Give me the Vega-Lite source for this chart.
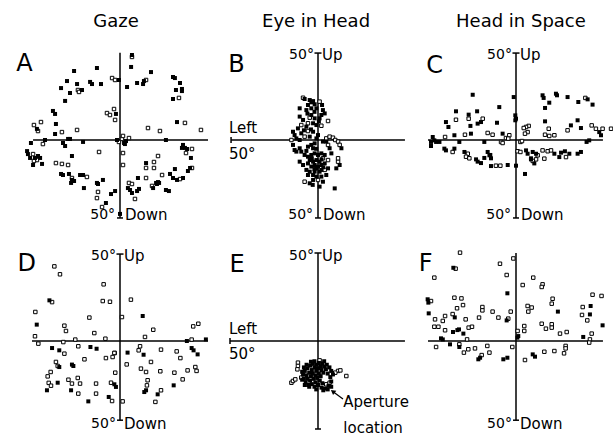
{
"$schema":"https://vega.github.io/schema/vega-lite/v6.json",
"padding":{"left":16,"top":13,"right":0,"bottom":0},
"background":"white",
"bounds":"flush",
"config":{"view":{"stroke":null},"font":"DejaVu Sans"},
"data":{"values":[
{"p":"A","k":"ln","x":0,"y":49.6,"x2":0,"y2":-44.3},
{"p":"A","k":"ln","x":-49.4,"y":0,"x2":50,"y2":0},
{"p":"A","k":"ln","x":-1.7,"y":-44.3,"x2":1.7,"y2":-44.3},
{"p":"B","k":"ln","x":0,"y":49.4,"x2":0,"y2":-44.3},
{"p":"B","k":"ln","x":-2,"y":49.4,"x2":2,"y2":49.4},
{"p":"B","k":"ln","x":-1.7,"y":-44.3,"x2":1.7,"y2":-44.3},
{"p":"B","k":"ln","x":-49.4,"y":0,"x2":49.4,"y2":0},
{"p":"B","k":"ln","x":-49.4,"y":-1.7,"x2":-49.4,"y2":1.7},
{"p":"C","k":"ln","x":0,"y":49.4,"x2":0,"y2":-44.3},
{"p":"C","k":"ln","x":-2,"y":49.4,"x2":2,"y2":49.4},
{"p":"C","k":"ln","x":-1.7,"y":-44.3,"x2":1.7,"y2":-44.3},
{"p":"C","k":"ln","x":-50,"y":0,"x2":49.4,"y2":0},
{"p":"D","k":"ln","x":0,"y":49.4,"x2":0,"y2":-45},
{"p":"D","k":"ln","x":-2,"y":49.4,"x2":2,"y2":49.4},
{"p":"D","k":"ln","x":-1.7,"y":-45,"x2":1.7,"y2":-45},
{"p":"D","k":"ln","x":-50,"y":0,"x2":50,"y2":0},
{"p":"E","k":"ln","x":0,"y":50,"x2":0,"y2":-50},
{"p":"E","k":"ln","x":-2,"y":50,"x2":2,"y2":50},
{"p":"E","k":"ln","x":-1.7,"y":-50,"x2":1.7,"y2":-50},
{"p":"E","k":"ln","x":-50,"y":0,"x2":49.4,"y2":0},
{"p":"E","k":"ln","x":-50,"y":-1.7,"x2":-50,"y2":1.7},
{"p":"F","k":"ln","x":0,"y":50,"x2":0,"y2":-45},
{"p":"F","k":"ln","x":-1.7,"y":-45,"x2":1.7,"y2":-45},
{"p":"F","k":"ln","x":-50,"y":0,"x2":49.4,"y2":0},
{"p":"E","k":"arrow","x":14.2,"y":-33.0,"x2":8.4,"y2":-28.7},
{"p":"E","k":"head","x":8.4,"y":-28.7},

{"p":"A","k":"r","x":-2.8,"y":-42.6,"t":"50°"},
{"p":"B","k":"r","x":-2.3,"y":48.5,"t":"50°"},
{"p":"B","k":"r","x":-2.8,"y":-42.6,"t":"50°"},
{"p":"C","k":"r","x":-2.3,"y":48.5,"t":"50°"},
{"p":"C","k":"r","x":-2.8,"y":-42.6,"t":"50°"},
{"p":"D","k":"r","x":-2.3,"y":48.5,"t":"50°"},
{"p":"D","k":"r","x":-2.3,"y":-47,"t":"50°"},
{"p":"E","k":"r","x":-2.3,"y":48.5,"t":"50°"},
{"p":"F","k":"r","x":-2.3,"y":-47,"t":"50°"},
{"p":"A","k":"l","x":2.8,"y":-42.6,"t":"Down"},
{"p":"B","k":"l","x":2.3,"y":48.5,"t":"Up"},
{"p":"B","k":"l","x":2.8,"y":-42.6,"t":"Down"},
{"p":"B","k":"l","x":-50.6,"y":6.8,"t":"Left"},
{"p":"B","k":"l","x":-50.6,"y":-8,"t":"50°"},
{"p":"C","k":"l","x":2.3,"y":48.5,"t":"Up"},
{"p":"C","k":"l","x":2.8,"y":-42.6,"t":"Down"},
{"p":"D","k":"l","x":2.3,"y":48.5,"t":"Up"},
{"p":"D","k":"l","x":2.3,"y":-47,"t":"Down"},
{"p":"E","k":"l","x":2.3,"y":48.5,"t":"Up"},
{"p":"E","k":"l","x":-50.6,"y":7.1,"t":"Left"},
{"p":"E","k":"l","x":-50.6,"y":-7.4,"t":"50°"},
{"p":"F","k":"l","x":2.3,"y":-47,"t":"Down"},
{"p":"E","k":"c","x":33,"y":-34.7,"t":"Aperture"},
{"p":"E","k":"c","x":31.3,"y":-49.5,"t":"location"},
{"p":"A","k":"L","x":-54.3,"y":42.9,"t":"A"},
{"p":"B","k":"L","x":-46.3,"y":42.6,"t":"B"},
{"p":"C","k":"L","x":-46.3,"y":41.8,"t":"C"},
{"p":"D","k":"L","x":-53,"y":43.5,"t":"D"},
{"p":"E","k":"L","x":-46,"y":42.9,"t":"E"},
{"p":"F","k":"L","x":-51.4,"y":44,"t":"F"},
{"p":"A","k":"T","x":-2.3,"y":67,"t":"Gaze"},
{"p":"B","k":"T","x":-1.1,"y":67,"t":"Eye in Head"},
{"p":"C","k":"T","x":2.8,"y":67,"t":"Head in Space"},

{"p":"A","k":"f","x":6.8,"y":48.3},{"p":"A","k":"o","x":6.8,"y":47.2},{"p":"A","k":"f","x":6.3,"y":41.5},{"p":"A","k":"f","x":17.6,"y":38.6},
{"p":"A","k":"f","x":-13.1,"y":40.9},{"p":"A","k":"f","x":-26.1,"y":39.2},{"p":"A","k":"f","x":-30.1,"y":33.5},{"p":"A","k":"f","x":-24.4,"y":31.8},
{"p":"A","k":"f","x":-17.0,"y":33.0},{"p":"A","k":"f","x":-15.9,"y":31.8},{"p":"A","k":"f","x":-10.8,"y":31.8},{"p":"A","k":"o","x":-4.5,"y":35.2},
{"p":"A","k":"o","x":-2.8,"y":34.1},{"p":"A","k":"f","x":-0.6,"y":34.1},{"p":"A","k":"f","x":4.0,"y":30.1},{"p":"A","k":"f","x":9.7,"y":32.4},
{"p":"A","k":"f","x":13.6,"y":33.5},{"p":"A","k":"o","x":14.8,"y":34.1},{"p":"A","k":"f","x":13.1,"y":31.8},{"p":"A","k":"f","x":30.1,"y":35.8},
{"p":"A","k":"f","x":31.2,"y":35.2},{"p":"A","k":"f","x":34.1,"y":32.4},{"p":"A","k":"f","x":31.8,"y":28.4},{"p":"A","k":"f","x":35.2,"y":29.0},
{"p":"A","k":"f","x":35.2,"y":27.8},{"p":"A","k":"f","x":30.1,"y":23.3},{"p":"A","k":"o","x":33.5,"y":23.9},{"p":"A","k":"f","x":-33.5,"y":29.5},
{"p":"A","k":"f","x":-28.4,"y":26.7},{"p":"A","k":"o","x":-23.9,"y":28.4},{"p":"A","k":"o","x":-23.3,"y":27.3},{"p":"A","k":"f","x":-21.6,"y":28.4},
{"p":"A","k":"f","x":-31.2,"y":22.2},{"p":"A","k":"f","x":-38.1,"y":16.5},{"p":"A","k":"f","x":-36.9,"y":14.8},{"p":"A","k":"f","x":-36.4,"y":9.1},
{"p":"A","k":"o","x":-44.9,"y":10.2},{"p":"A","k":"o","x":-48.9,"y":8.5},{"p":"A","k":"f","x":-47.2,"y":6.3},{"p":"A","k":"o","x":-46.6,"y":5.1},
{"p":"A","k":"o","x":-7.4,"y":15.3},{"p":"A","k":"o","x":-5.7,"y":14.2},{"p":"A","k":"o","x":-3.4,"y":17.6},{"p":"A","k":"f","x":-2.3,"y":14.8},
{"p":"A","k":"o","x":-2.8,"y":11.4},{"p":"A","k":"f","x":32.4,"y":10.2},{"p":"A","k":"o","x":36.9,"y":9.7},{"p":"A","k":"o","x":15.9,"y":6.8},
{"p":"A","k":"o","x":22.7,"y":5.1},{"p":"A","k":"o","x":46.0,"y":5.7},{"p":"A","k":"o","x":-24.4,"y":5.7},{"p":"A","k":"o","x":-33.0,"y":4.5},
{"p":"A","k":"f","x":-36.9,"y":3.4},{"p":"A","k":"f","x":-42.6,"y":0},{"p":"A","k":"o","x":-43.8,"y":-2.3},{"p":"A","k":"f","x":-50.6,"y":-1.7},
{"p":"A","k":"f","x":-29.5,"y":0.6},{"p":"A","k":"f","x":-28.4,"y":0.6},{"p":"A","k":"f","x":-32.4,"y":-1.7},{"p":"A","k":"f","x":-31.2,"y":-3.4},
{"p":"A","k":"f","x":-21.0,"y":-1.1},{"p":"A","k":"o","x":-11.9,"y":-6.8},{"p":"A","k":"f","x":-1.7,"y":0},{"p":"A","k":"o","x":-0.6,"y":-1.1},
{"p":"A","k":"o","x":1.1,"y":0.6},{"p":"A","k":"o","x":1.7,"y":2.3},{"p":"A","k":"f","x":2.3,"y":-1.7},{"p":"A","k":"f","x":2.8,"y":-2.3},
{"p":"A","k":"f","x":3.4,"y":-0.6},{"p":"A","k":"o","x":5.1,"y":1.1},{"p":"A","k":"o","x":1.7,"y":-7.4},{"p":"A","k":"o","x":1.7,"y":-14.2},
{"p":"A","k":"f","x":26.1,"y":0},{"p":"A","k":"f","x":-52.8,"y":-6.3},{"p":"A","k":"f","x":-52.3,"y":-8.0},{"p":"A","k":"f","x":-51.1,"y":-10.2},
{"p":"A","k":"o","x":-49.4,"y":-8.0},{"p":"A","k":"f","x":-48.3,"y":-10.2},{"p":"A","k":"o","x":-47.2,"y":-11.4},{"p":"A","k":"f","x":-46.6,"y":-9.1},
{"p":"A","k":"f","x":-45.4,"y":-10.2},{"p":"A","k":"o","x":-48.9,"y":-11.9},{"p":"A","k":"f","x":-49.4,"y":-14.2},{"p":"A","k":"f","x":-44.3,"y":-13.6},
{"p":"A","k":"f","x":-27.3,"y":-9.1},{"p":"A","k":"o","x":-36.4,"y":-13.1},{"p":"A","k":"o","x":-33.0,"y":-13.6},{"p":"A","k":"o","x":-29.5,"y":-14.2},
{"p":"A","k":"f","x":35.8,"y":-2.8},{"p":"A","k":"f","x":36.9,"y":-4.5},{"p":"A","k":"f","x":38.1,"y":-5.1},{"p":"A","k":"f","x":35.2,"y":-4.5},
{"p":"A","k":"o","x":40.9,"y":-5.1},{"p":"A","k":"o","x":37.5,"y":-7.4},{"p":"A","k":"f","x":40.3,"y":-10.2},{"p":"A","k":"o","x":21.6,"y":-9.1},
{"p":"A","k":"f","x":14.8,"y":-13.1},{"p":"A","k":"o","x":19.3,"y":-12.5},{"p":"A","k":"o","x":14.8,"y":-15.9},{"p":"A","k":"o","x":19.3,"y":-15.9},
{"p":"A","k":"f","x":39.8,"y":-15.9},{"p":"A","k":"o","x":40.9,"y":-15.9},{"p":"A","k":"f","x":38.6,"y":-17.6},{"p":"A","k":"f","x":-33.5,"y":-19.3},
{"p":"A","k":"f","x":-32.4,"y":-19.9},{"p":"A","k":"f","x":-29.0,"y":-19.3},{"p":"A","k":"f","x":-27.3,"y":-22.7},{"p":"A","k":"f","x":-26.1,"y":-23.3},
{"p":"A","k":"f","x":-27.8,"y":-24.4},{"p":"A","k":"f","x":-22.7,"y":-19.9},{"p":"A","k":"f","x":-21.0,"y":-19.9},{"p":"A","k":"o","x":-18.8,"y":-21.0},
{"p":"A","k":"o","x":-27.3,"y":-21.6},{"p":"A","k":"f","x":-20.5,"y":-27.3},{"p":"A","k":"f","x":-13.1,"y":-24.4},{"p":"A","k":"f","x":-12.5,"y":-25.0},
{"p":"A","k":"f","x":-9.7,"y":-22.7},{"p":"A","k":"o","x":-12.5,"y":-29.5},{"p":"A","k":"o","x":-13.1,"y":-33.0},{"p":"A","k":"f","x":-5.1,"y":-30.7},
{"p":"A","k":"f","x":-2.8,"y":-29.0},{"p":"A","k":"f","x":-8.0,"y":-35.8},{"p":"A","k":"o","x":-10.2,"y":-38.1},{"p":"A","k":"f","x":0,"y":-42.0},
{"p":"A","k":"o","x":5.1,"y":-24.4},{"p":"A","k":"o","x":6.8,"y":-25.0},{"p":"A","k":"f","x":4.5,"y":-27.3},{"p":"A","k":"f","x":5.7,"y":-28.4},
{"p":"A","k":"f","x":6.8,"y":-30.1},{"p":"A","k":"f","x":10.8,"y":-27.8},{"p":"A","k":"f","x":9.7,"y":-29.0},{"p":"A","k":"f","x":10.2,"y":-21.6},
{"p":"A","k":"o","x":14.8,"y":-21.6},{"p":"A","k":"f","x":20.5,"y":-24.4},{"p":"A","k":"f","x":21.6,"y":-23.9},{"p":"A","k":"f","x":21.0,"y":-25.0},
{"p":"A","k":"f","x":22.2,"y":-24.4},{"p":"A","k":"o","x":18.2,"y":-26.1},{"p":"A","k":"f","x":18.8,"y":-27.3},{"p":"A","k":"f","x":26.1,"y":-28.4},
{"p":"A","k":"f","x":27.8,"y":-29.0},{"p":"A","k":"o","x":23.9,"y":-19.9},{"p":"A","k":"f","x":28.4,"y":-19.3},{"p":"A","k":"f","x":30.1,"y":-21.6},
{"p":"A","k":"f","x":31.2,"y":-16.5},{"p":"A","k":"f","x":32.4,"y":-22.7},{"p":"A","k":"o","x":34.1,"y":-22.2},{"p":"A","k":"f","x":35.8,"y":-21.6},
{"p":"A","k":"o","x":8.5,"y":-33.5},

{"p":"B","k":"o","x":-8.5,"y":24.0},{"p":"B","k":"f","x":-7.6,"y":23.3},{"p":"B","k":"f","x":-4.7,"y":22.7},{"p":"B","k":"f","x":-3.8,"y":21.4},
{"p":"B","k":"f","x":-2.8,"y":22.1},{"p":"B","k":"f","x":-5.7,"y":19.9},{"p":"B","k":"f","x":-1.9,"y":20.3},{"p":"B","k":"o","x":0.9,"y":21.8},
{"p":"B","k":"f","x":2.3,"y":19.9},{"p":"B","k":"f","x":-3.8,"y":18.0},{"p":"B","k":"f","x":-0.9,"y":18.0},{"p":"B","k":"f","x":2.8,"y":17.0},
{"p":"B","k":"f","x":-6.6,"y":17.0},{"p":"B","k":"f","x":-10.4,"y":18.0},{"p":"B","k":"f","x":1.9,"y":14.2},{"p":"B","k":"f","x":3.8,"y":15.1},
{"p":"B","k":"f","x":-3.8,"y":14.2},{"p":"B","k":"o","x":-4.7,"y":12.7},{"p":"B","k":"f","x":-1.9,"y":12.3},{"p":"B","k":"f","x":0.9,"y":12.3},
{"p":"B","k":"o","x":5.7,"y":10.8},{"p":"B","k":"f","x":-10.4,"y":13.3},{"p":"B","k":"f","x":-8.5,"y":11.4},{"p":"B","k":"o","x":-5.7,"y":9.5},
{"p":"B","k":"f","x":-2.8,"y":9.5},{"p":"B","k":"f","x":-6.6,"y":7.6},{"p":"B","k":"f","x":-0.9,"y":8.5},{"p":"B","k":"o","x":1.9,"y":8.1},
{"p":"B","k":"o","x":-9.5,"y":8.5},{"p":"B","k":"f","x":-11.4,"y":6.6},{"p":"B","k":"f","x":-14.2,"y":4.7},{"p":"B","k":"f","x":-13.3,"y":2.8},
{"p":"B","k":"f","x":-9.5,"y":3.8},{"p":"B","k":"o","x":-5.7,"y":5.1},{"p":"B","k":"f","x":-2.8,"y":4.7},{"p":"B","k":"o","x":-7.6,"y":1.9},
{"p":"B","k":"f","x":-4.7,"y":1.9},{"p":"B","k":"o","x":-15.1,"y":0},{"p":"B","k":"f","x":-12.3,"y":0.9},{"p":"B","k":"f","x":-10.4,"y":0},
{"p":"B","k":"f","x":-0.9,"y":0.9},{"p":"B","k":"f","x":0,"y":2.8},{"p":"B","k":"o","x":4.7,"y":0.9},{"p":"B","k":"o","x":6.6,"y":1.9},
{"p":"B","k":"o","x":8.5,"y":1.3},{"p":"B","k":"o","x":9.8,"y":0},{"p":"B","k":"o","x":11.4,"y":-0.9},{"p":"B","k":"o","x":12.3,"y":-2.8},
{"p":"B","k":"f","x":13.3,"y":-4.7},{"p":"B","k":"f","x":4.7,"y":-0.9},{"p":"B","k":"o","x":5.7,"y":-2.8},{"p":"B","k":"f","x":6.6,"y":-4.7},
{"p":"B","k":"f","x":2.8,"y":-0.9},{"p":"B","k":"f","x":7.6,"y":-7.6},{"p":"B","k":"f","x":-14.2,"y":-2.8},{"p":"B","k":"f","x":-13.3,"y":-5.7},
{"p":"B","k":"f","x":-12.3,"y":-6.6},{"p":"B","k":"f","x":-10.4,"y":-4.7},{"p":"B","k":"f","x":-9.5,"y":-6.6},{"p":"B","k":"f","x":-5.7,"y":-3.8},
{"p":"B","k":"f","x":-3.8,"y":-2.8},{"p":"B","k":"f","x":-2.8,"y":-4.7},{"p":"B","k":"f","x":-1.9,"y":-1.9},{"p":"B","k":"f","x":-7.6,"y":-8.5},
{"p":"B","k":"f","x":-5.7,"y":-9.5},{"p":"B","k":"f","x":-3.8,"y":-8.5},{"p":"B","k":"f","x":-1.9,"y":-7.6},{"p":"B","k":"f","x":0,"y":-8.5},
{"p":"B","k":"f","x":1.9,"y":-7.6},{"p":"B","k":"o","x":2.8,"y":-10.4},{"p":"B","k":"f","x":-4.7,"y":-11.4},{"p":"B","k":"f","x":-2.8,"y":-12.3},
{"p":"B","k":"f","x":-0.9,"y":-11.4},{"p":"B","k":"f","x":0.9,"y":-12.3},{"p":"B","k":"f","x":-1.9,"y":-14.2},{"p":"B","k":"f","x":0,"y":-15.1},
{"p":"B","k":"f","x":1.9,"y":-14.2},{"p":"B","k":"f","x":3.8,"y":-13.3},{"p":"B","k":"f","x":-3.8,"y":-15.1},{"p":"B","k":"f","x":-6.6,"y":-17.0},
{"p":"B","k":"f","x":-4.7,"y":-18.0},{"p":"B","k":"f","x":-1.9,"y":-18.0},{"p":"B","k":"f","x":0.9,"y":-18.0},{"p":"B","k":"o","x":3.8,"y":-17.0},
{"p":"B","k":"f","x":5.7,"y":-16.1},{"p":"B","k":"f","x":-0.9,"y":-20.8},{"p":"B","k":"f","x":1.9,"y":-20.8},{"p":"B","k":"o","x":0,"y":-22.7},
{"p":"B","k":"f","x":-2.8,"y":-22.7},{"p":"B","k":"f","x":-5.7,"y":-19.9},{"p":"B","k":"o","x":-7.6,"y":-23.7},{"p":"B","k":"f","x":0.9,"y":-26.5},
{"p":"B","k":"f","x":9.5,"y":-27.5},{"p":"B","k":"o","x":11.4,"y":-12.3},{"p":"B","k":"f","x":12.3,"y":-14.2},{"p":"B","k":"o","x":11.4,"y":-10.4},
{"p":"B","k":"f","x":10.4,"y":-16.1},{"p":"B","k":"f","x":-10.4,"y":-12.3},{"p":"B","k":"f","x":-8.5,"y":-14.2},{"p":"B","k":"f","x":-5.7,"y":-13.3},
{"p":"B","k":"f","x":1.9,"y":-17.0},{"p":"B","k":"f","x":4.7,"y":-19.9},{"p":"B","k":"f","x":-0.9,"y":-16.1},{"p":"B","k":"f","x":2.8,"y":-23.7},
{"p":"B","k":"f","x":-2.8,"y":-19.9},{"p":"B","k":"f","x":-4.7,"y":-24.6},{"p":"B","k":"o","x":5.7,"y":-11.4},{"p":"B","k":"f","x":3.8,"y":-8.5},
{"p":"B","k":"f","x":-6.6,"y":-6.2},{"p":"B","k":"f","x":-1.0,"y":-5.0},{"p":"B","k":"f","x":-3.5,"y":-10.5},{"p":"B","k":"f","x":2.0,"y":-11.0},
{"p":"B","k":"f","x":-2.0,"y":-16.5},{"p":"B","k":"f","x":3.0,"y":-15.5},{"p":"B","k":"f","x":-3.0,"y":-25.5},{"p":"B","k":"f","x":-6.0,"y":15.0},
{"p":"B","k":"f","x":-2.0,"y":16.0},{"p":"B","k":"f","x":0.5,"y":10.5},{"p":"B","k":"f","x":-4.0,"y":6.0},{"p":"B","k":"f","x":-8.0,"y":5.5},

{"p":"C","k":"f","x":-24.6,"y":25.7},{"p":"C","k":"f","x":-1.3,"y":24.4},{"p":"C","k":"f","x":15.1,"y":25.4},{"p":"C","k":"f","x":15.7,"y":23.9},
{"p":"C","k":"f","x":22.7,"y":26.3},{"p":"C","k":"f","x":23.3,"y":25.4},{"p":"C","k":"f","x":29.3,"y":24.4},{"p":"C","k":"o","x":39.4,"y":23.9},
{"p":"C","k":"f","x":40.7,"y":23.1},{"p":"C","k":"f","x":35.4,"y":21.6},{"p":"C","k":"f","x":43.5,"y":20.1},{"p":"C","k":"f","x":18.9,"y":21.2},
{"p":"C","k":"f","x":16.5,"y":18.2},{"p":"C","k":"f","x":-9.5,"y":18.7},{"p":"C","k":"f","x":-34.1,"y":16.3},{"p":"C","k":"f","x":-22.1,"y":16.3},
{"p":"C","k":"f","x":-26.9,"y":14.4},{"p":"C","k":"o","x":-34.1,"y":11.5},{"p":"C","k":"o","x":-26.9,"y":12.1},{"p":"C","k":"o","x":-18.9,"y":12.1},
{"p":"C","k":"f","x":-19.9,"y":10.2},{"p":"C","k":"f","x":-21.8,"y":9.3},{"p":"C","k":"f","x":-25.9,"y":8.0},{"p":"C","k":"f","x":-39.8,"y":10.2},
{"p":"C","k":"f","x":-38.4,"y":7.4},{"p":"C","k":"f","x":-10.8,"y":9.8},{"p":"C","k":"f","x":-0.4,"y":14.0},{"p":"C","k":"f","x":0,"y":12.1},
{"p":"C","k":"f","x":-0.4,"y":11.2},{"p":"C","k":"o","x":7.2,"y":8.0},{"p":"C","k":"o","x":5.7,"y":7.4},{"p":"C","k":"o","x":4.4,"y":6.8},
{"p":"C","k":"o","x":6.6,"y":4.5},{"p":"C","k":"o","x":5.1,"y":3.6},{"p":"C","k":"f","x":16.5,"y":10.6},{"p":"C","k":"o","x":18.6,"y":6.4},
{"p":"C","k":"f","x":35.0,"y":11.2},{"p":"C","k":"f","x":31.2,"y":8.3},{"p":"C","k":"o","x":29.3,"y":5.5},{"p":"C","k":"f","x":36.9,"y":6.8},
{"p":"C","k":"o","x":43.0,"y":8.3},{"p":"C","k":"o","x":45.4,"y":6.4},{"p":"C","k":"f","x":47.3,"y":4.5},{"p":"C","k":"f","x":48.3,"y":2.7},
{"p":"C","k":"o","x":49.2,"y":6.4},{"p":"C","k":"o","x":54.0,"y":6.4},{"p":"C","k":"o","x":21.8,"y":2.7},{"p":"C","k":"o","x":16.5,"y":3.0},
{"p":"C","k":"o","x":18.9,"y":2.3},{"p":"C","k":"f","x":-35.0,"y":2.7},{"p":"C","k":"o","x":-40.3,"y":1.7},{"p":"C","k":"o","x":-29.0,"y":3.0},
{"p":"C","k":"f","x":-25.6,"y":3.6},{"p":"C","k":"o","x":-16.1,"y":4.0},{"p":"C","k":"o","x":-13.3,"y":3.0},{"p":"C","k":"f","x":-7.6,"y":3.6},
{"p":"C","k":"o","x":-3.8,"y":2.7},{"p":"C","k":"o","x":-5.7,"y":1.1},{"p":"C","k":"o","x":-4.4,"y":0.8},{"p":"C","k":"o","x":-8.5,"y":-1.1},
{"p":"C","k":"o","x":-7.6,"y":-1.7},{"p":"C","k":"f","x":-47.3,"y":1.7},{"p":"C","k":"f","x":-46.4,"y":-0.2},{"p":"C","k":"f","x":-45.4,"y":-1.1},
{"p":"C","k":"f","x":-48.3,"y":-1.1},{"p":"C","k":"f","x":-43.5,"y":-1.1},{"p":"C","k":"f","x":-32.2,"y":-1.1},{"p":"C","k":"f","x":-18.0,"y":-1.1},
{"p":"C","k":"o","x":2.5,"y":-1.1},{"p":"C","k":"o","x":3.4,"y":-0.6},{"p":"C","k":"f","x":-48.3,"y":-3.4},{"p":"C","k":"f","x":-40.7,"y":-4.9},
{"p":"C","k":"f","x":-39.8,"y":-5.9},{"p":"C","k":"o","x":-36.0,"y":-6.8},{"p":"C","k":"f","x":-35.0,"y":-4.9},{"p":"C","k":"f","x":-29.3,"y":-6.8},
{"p":"C","k":"o","x":-27.4,"y":-7.8},{"p":"C","k":"f","x":-16.1,"y":-6.8},{"p":"C","k":"f","x":-15.1,"y":-8.7},{"p":"C","k":"f","x":-22.7,"y":-11.0},
{"p":"C","k":"o","x":0.9,"y":-6.4},{"p":"C","k":"o","x":2.5,"y":-6.8},{"p":"C","k":"f","x":5.7,"y":-5.9},{"p":"C","k":"f","x":6.6,"y":-7.8},
{"p":"C","k":"f","x":9.5,"y":-6.8},{"p":"C","k":"f","x":11.4,"y":-7.8},{"p":"C","k":"o","x":12.3,"y":-8.7},{"p":"C","k":"o","x":15.1,"y":-5.9},
{"p":"C","k":"o","x":18.0,"y":-6.4},{"p":"C","k":"o","x":19.9,"y":-5.9},{"p":"C","k":"f","x":21.8,"y":-7.8},{"p":"C","k":"f","x":25.6,"y":-7.2},
{"p":"C","k":"f","x":27.8,"y":-6.4},{"p":"C","k":"f","x":30.3,"y":-7.8},{"p":"C","k":"f","x":35.0,"y":-7.8},{"p":"C","k":"f","x":36.9,"y":-6.8},
{"p":"C","k":"f","x":40.1,"y":-1.1},{"p":"C","k":"f","x":41.6,"y":-0.2},{"p":"C","k":"f","x":24.6,"y":-9.7},{"p":"C","k":"o","x":28.4,"y":-9.7},
{"p":"C","k":"f","x":8.5,"y":-11.0},{"p":"C","k":"o","x":11.4,"y":-11.0},{"p":"C","k":"o","x":16.1,"y":-10.6},{"p":"C","k":"f","x":-18.0,"y":-10.2},
{"p":"C","k":"o","x":-28.4,"y":-9.5},{"p":"C","k":"o","x":-26.5,"y":-10.4},{"p":"C","k":"f","x":-21.8,"y":-12.3},{"p":"C","k":"f","x":-19.9,"y":-13.1},
{"p":"C","k":"f","x":-14.2,"y":-14.8},{"p":"C","k":"o","x":-11.4,"y":-14.6},{"p":"C","k":"o","x":-8.9,"y":-14.6},{"p":"C","k":"f","x":-4.7,"y":-14.2},
{"p":"C","k":"f","x":0,"y":-14.6},{"p":"C","k":"f","x":5.1,"y":-19.3},{"p":"C","k":"f","x":8.5,"y":-10.4},{"p":"C","k":"o","x":9.5,"y":-11.9},
{"p":"C","k":"f","x":10.4,"y":-13.3},{"p":"C","k":"f","x":-14.6,"y":-8.5},{"p":"C","k":"f","x":-14.2,"y":-10.4},

{"p":"D","k":"o","x":-37.3,"y":42.4},{"p":"D","k":"o","x":-34.1,"y":37.9},{"p":"D","k":"o","x":-9.3,"y":32.2},{"p":"D","k":"f","x":-40.1,"y":23.1},
{"p":"D","k":"o","x":-38.6,"y":22.1},{"p":"D","k":"o","x":-9.8,"y":22.7},{"p":"D","k":"o","x":-5.7,"y":22.3},{"p":"D","k":"o","x":6.2,"y":23.5},
{"p":"D","k":"o","x":-48.1,"y":16.5},{"p":"D","k":"o","x":-17.4,"y":13.3},{"p":"D","k":"o","x":1.1,"y":13.6},{"p":"D","k":"f","x":12.9,"y":14.2},
{"p":"D","k":"f","x":-47.3,"y":9.3},{"p":"D","k":"o","x":-31.6,"y":8.7},{"p":"D","k":"o","x":-30.7,"y":5.7},{"p":"D","k":"o","x":-14.6,"y":4.5},
{"p":"D","k":"o","x":18.9,"y":6.4},{"p":"D","k":"o","x":41.6,"y":8.3},{"p":"D","k":"o","x":44.5,"y":9.8},{"p":"D","k":"o","x":-48.3,"y":2.7},
{"p":"D","k":"o","x":-46.4,"y":-1.5},{"p":"D","k":"o","x":-32.2,"y":-0.6},{"p":"D","k":"o","x":-25.4,"y":0.8},{"p":"D","k":"o","x":-8.3,"y":1.3},
{"p":"D","k":"o","x":14.2,"y":2.3},{"p":"D","k":"f","x":38.0,"y":0},{"p":"D","k":"o","x":40.7,"y":0.8},{"p":"D","k":"f","x":48.8,"y":0.9},
{"p":"D","k":"f","x":-38.6,"y":-4.0},{"p":"D","k":"f","x":-34.5,"y":-5.3},{"p":"D","k":"o","x":-31.6,"y":-7.2},{"p":"D","k":"o","x":-23.7,"y":-3.0},
{"p":"D","k":"f","x":-16.8,"y":-3.4},{"p":"D","k":"f","x":-13.3,"y":-4.4},{"p":"D","k":"o","x":-3.0,"y":-6.8},{"p":"D","k":"f","x":4.3,"y":-6.6},
{"p":"D","k":"o","x":11.4,"y":-3.0},{"p":"D","k":"o","x":10.6,"y":-5.3},{"p":"D","k":"f","x":13.4,"y":-7.8},{"p":"D","k":"o","x":23.3,"y":-4.9},
{"p":"D","k":"o","x":32.2,"y":-5.9},{"p":"D","k":"o","x":34.3,"y":-9.7},{"p":"D","k":"f","x":40.7,"y":-4.0},{"p":"D","k":"f","x":41.8,"y":-5.3},
{"p":"D","k":"f","x":44.1,"y":-7.6},{"p":"D","k":"o","x":-20.2,"y":-10.4},{"p":"D","k":"o","x":-8.0,"y":-9.7},{"p":"D","k":"o","x":-4.2,"y":-9.1},
{"p":"D","k":"o","x":-3.2,"y":-6.8},{"p":"D","k":"o","x":-36.4,"y":-11.9},{"p":"D","k":"f","x":-34.5,"y":-14.8},{"p":"D","k":"o","x":-35.4,"y":-14.2},
{"p":"D","k":"o","x":-39.4,"y":-17.6},{"p":"D","k":"f","x":-27.3,"y":-13.4},{"p":"D","k":"f","x":-26.5,"y":-14.2},{"p":"D","k":"o","x":3.8,"y":-13.3},
{"p":"D","k":"o","x":11.9,"y":-15.7},{"p":"D","k":"o","x":17.6,"y":-11.9},{"p":"D","k":"o","x":14.8,"y":-17.6},{"p":"D","k":"o","x":22.9,"y":-17.2},
{"p":"D","k":"o","x":30.9,"y":-18.0},{"p":"D","k":"o","x":38.4,"y":-16.7},{"p":"D","k":"o","x":42.8,"y":-14.8},{"p":"D","k":"o","x":43.5,"y":-17.0},
{"p":"D","k":"o","x":35.6,"y":-21.8},{"p":"D","k":"o","x":-2.7,"y":-18.0},{"p":"D","k":"o","x":-41.1,"y":-20.1},{"p":"D","k":"o","x":-40.5,"y":-23.8},
{"p":"D","k":"o","x":-39.2,"y":-25.4},{"p":"D","k":"f","x":-35.4,"y":-23.7},{"p":"D","k":"o","x":-29.3,"y":-22.0},{"p":"D","k":"o","x":-27.3,"y":-24.2},
{"p":"D","k":"o","x":-24.0,"y":-21.0},{"p":"D","k":"o","x":-22.7,"y":-24.2},{"p":"D","k":"f","x":-41.5,"y":-28.0},{"p":"D","k":"f","x":-27.8,"y":-28.0},
{"p":"D","k":"o","x":-23.7,"y":-29.9},{"p":"D","k":"f","x":-18.0,"y":-34.3},{"p":"D","k":"o","x":-13.6,"y":-24.2},{"p":"D","k":"o","x":-13.6,"y":-29.9},
{"p":"D","k":"o","x":-5.1,"y":-23.7},{"p":"D","k":"f","x":-3.2,"y":-24.6},{"p":"D","k":"f","x":-2.3,"y":-26.1},{"p":"D","k":"f","x":-6.4,"y":-31.8},
{"p":"D","k":"o","x":-4.5,"y":-34.1},{"p":"D","k":"o","x":1.5,"y":-34.3},{"p":"D","k":"f","x":13.8,"y":-29.0},{"p":"D","k":"f","x":14.8,"y":-28.0},
{"p":"D","k":"o","x":15.3,"y":-25.2},{"p":"D","k":"o","x":15.7,"y":-22.3},{"p":"D","k":"f","x":21.4,"y":-30.3},{"p":"D","k":"o","x":23.3,"y":-28.0},
{"p":"D","k":"o","x":20.1,"y":-34.6},{"p":"D","k":"f","x":30.5,"y":-25.2},

{"p":"E","k":"f","x":-8.5,"y":-19.0},{"p":"E","k":"f","x":-8.0,"y":-21.5},{"p":"E","k":"f","x":-7.5,"y":-17.0},{"p":"E","k":"f","x":-7.0,"y":-23.5},
{"p":"E","k":"f","x":-6.5,"y":-19.5},{"p":"E","k":"f","x":-6.0,"y":-15.5},{"p":"E","k":"f","x":-6.0,"y":-21.5},{"p":"E","k":"f","x":-5.5,"y":-25.0},
{"p":"E","k":"f","x":-5.0,"y":-18.0},{"p":"E","k":"f","x":-4.5,"y":-14.0},{"p":"E","k":"f","x":-4.5,"y":-22.5},{"p":"E","k":"f","x":-4.0,"y":-20.0},
{"p":"E","k":"f","x":-3.5,"y":-16.5},{"p":"E","k":"f","x":-3.5,"y":-24.5},{"p":"E","k":"f","x":-3.0,"y":-13.0},{"p":"E","k":"f","x":-3.0,"y":-18.5},
{"p":"E","k":"f","x":-2.5,"y":-21.5},{"p":"E","k":"f","x":-2.0,"y":-15.0},{"p":"E","k":"f","x":-2.0,"y":-26.0},{"p":"E","k":"f","x":-1.5,"y":-19.5},
{"p":"E","k":"f","x":-1.5,"y":-23.5},{"p":"E","k":"f","x":-1.0,"y":-13.5},{"p":"E","k":"f","x":-1.0,"y":-17.0},{"p":"E","k":"f","x":-0.5,"y":-21.0},
{"p":"E","k":"f","x":0,"y":-15.5},{"p":"E","k":"f","x":0,"y":-25.0},{"p":"E","k":"f","x":0.5,"y":-18.5},{"p":"E","k":"f","x":0.5,"y":-12.5},
{"p":"E","k":"f","x":1.0,"y":-22.5},{"p":"E","k":"f","x":1.5,"y":-14.5},{"p":"E","k":"f","x":1.5,"y":-20.0},{"p":"E","k":"f","x":2.0,"y":-16.5},
{"p":"E","k":"f","x":2.0,"y":-26.5},{"p":"E","k":"f","x":2.5,"y":-12.8},{"p":"E","k":"f","x":3.0,"y":-18.0},{"p":"E","k":"f","x":2.5,"y":-24.0},
{"p":"E","k":"f","x":3.5,"y":-14.5},{"p":"E","k":"f","x":4.0,"y":-27.0},{"p":"E","k":"f","x":4.5,"y":-16.0},{"p":"E","k":"f","x":5.0,"y":-13.5},
{"p":"E","k":"f","x":5.5,"y":-18.5},{"p":"E","k":"f","x":6.0,"y":-25.5},{"p":"E","k":"f","x":6.5,"y":-15.0},{"p":"E","k":"f","x":7.0,"y":-20.5},
{"p":"E","k":"f","x":7.5,"y":-23.0},{"p":"E","k":"f","x":7.5,"y":-17.0},{"p":"E","k":"f","x":7.5,"y":-26.0},{"p":"E","k":"f","x":5.5,"y":-27.5},
{"p":"E","k":"f","x":3.0,"y":-28.0},{"p":"E","k":"f","x":-1.0,"y":-27.5},{"p":"E","k":"f","x":-5.0,"y":-26.0},{"p":"E","k":"f","x":-7.5,"y":-25.0},
{"p":"E","k":"f","x":-9.0,"y":-22.0},{"p":"E","k":"f","x":-9.0,"y":-17.5},{"p":"E","k":"f","x":-2.0,"y":-11.5},{"p":"E","k":"f","x":3.5,"y":-11.5},
{"p":"E","k":"f","x":8.5,"y":-19.0},{"p":"E","k":"f","x":-4.0,"y":-11.8},{"p":"E","k":"f","x":-6.5,"y":-13.5},{"p":"E","k":"f","x":-8.0,"y":-15.0},
{"p":"E","k":"o","x":-11.4,"y":-12.3},{"p":"E","k":"o","x":-11.4,"y":-14.2},{"p":"E","k":"o","x":-11.7,"y":-16.1},{"p":"E","k":"o","x":-15.1,"y":-23.7},
{"p":"E","k":"o","x":-14.2,"y":-22.7},{"p":"E","k":"o","x":-12.9,"y":-21.8},{"p":"E","k":"o","x":-9.5,"y":-20.8},{"p":"E","k":"o","x":11.4,"y":-17.0},
{"p":"E","k":"o","x":12.7,"y":-16.7},{"p":"E","k":"o","x":16.1,"y":-19.9},{"p":"E","k":"o","x":9.8,"y":-18.0},{"p":"E","k":"o","x":4.7,"y":-24.6},
{"p":"E","k":"o","x":6.6,"y":-23.7},{"p":"E","k":"o","x":0.9,"y":-11.0},

{"p":"F","k":"o","x":-31.8,"y":50.2},{"p":"F","k":"f","x":-35.6,"y":41.6},{"p":"F","k":"o","x":-34.3,"y":41.1},{"p":"F","k":"o","x":-46.4,"y":36.0},
{"p":"F","k":"o","x":-9.1,"y":43.9},{"p":"F","k":"o","x":-1.5,"y":46.9},{"p":"F","k":"o","x":-5.3,"y":37.5},{"p":"F","k":"o","x":9.8,"y":36.0},
{"p":"F","k":"o","x":3.8,"y":31.8},{"p":"F","k":"o","x":15.1,"y":32.2},{"p":"F","k":"o","x":14.6,"y":30.7},{"p":"F","k":"f","x":-4.9,"y":27.1},
{"p":"F","k":"o","x":43.5,"y":26.3},{"p":"F","k":"o","x":48.6,"y":25.6},{"p":"F","k":"f","x":-50.2,"y":23.7},{"p":"F","k":"f","x":-49.8,"y":21.8},
{"p":"F","k":"o","x":-48.3,"y":22.7},{"p":"F","k":"o","x":-35.0,"y":24.6},{"p":"F","k":"o","x":-31.0,"y":24.2},{"p":"F","k":"o","x":-30.1,"y":20.4},
{"p":"F","k":"o","x":-33.5,"y":18.6},{"p":"F","k":"o","x":-19.1,"y":19.3},{"p":"F","k":"o","x":-19.1,"y":17.4},{"p":"F","k":"o","x":-13.3,"y":16.7},
{"p":"F","k":"o","x":-3.0,"y":16.7},{"p":"F","k":"o","x":6.6,"y":19.9},{"p":"F","k":"o","x":8.9,"y":19.0},{"p":"F","k":"o","x":7.0,"y":16.7},
{"p":"F","k":"o","x":20.8,"y":24.0},{"p":"F","k":"o","x":20.3,"y":21.2},{"p":"F","k":"f","x":23.8,"y":16.7},{"p":"F","k":"o","x":37.9,"y":19.3},
{"p":"F","k":"f","x":42.4,"y":19.9},{"p":"F","k":"f","x":42.0,"y":15.1},{"p":"F","k":"f","x":-49.6,"y":15.7},{"p":"F","k":"o","x":-40.3,"y":14.2},
{"p":"F","k":"o","x":-41.6,"y":11.4},{"p":"F","k":"o","x":-36.0,"y":15.3},{"p":"F","k":"f","x":-34.8,"y":13.4},{"p":"F","k":"o","x":-46.0,"y":12.3},
{"p":"F","k":"o","x":-46.4,"y":8.1},{"p":"F","k":"o","x":-44.1,"y":8.1},{"p":"F","k":"o","x":-28.6,"y":12.3},{"p":"F","k":"o","x":-21.0,"y":13.3},
{"p":"F","k":"o","x":-10.0,"y":13.3},{"p":"F","k":"f","x":-5.3,"y":11.7},{"p":"F","k":"o","x":-4.4,"y":12.7},{"p":"F","k":"o","x":37.5,"y":14.8},
{"p":"F","k":"o","x":40.5,"y":11.7},{"p":"F","k":"f","x":49.2,"y":8.9},{"p":"F","k":"o","x":4.7,"y":8.5},{"p":"F","k":"o","x":4.7,"y":5.7},
{"p":"F","k":"o","x":14.6,"y":9.8},{"p":"F","k":"o","x":20.3,"y":9.5},{"p":"F","k":"o","x":20.3,"y":7.6},{"p":"F","k":"o","x":17.0,"y":7.0},
{"p":"F","k":"o","x":25.0,"y":4.2},{"p":"F","k":"o","x":28.8,"y":5.1},{"p":"F","k":"o","x":-40.3,"y":6.1},{"p":"F","k":"f","x":-35.8,"y":5.1},
{"p":"F","k":"f","x":-33.3,"y":6.2},{"p":"F","k":"f","x":-32.4,"y":6.6},{"p":"F","k":"o","x":-26.9,"y":7.6},{"p":"F","k":"o","x":-25.0,"y":8.1},
{"p":"F","k":"f","x":-29.9,"y":4.2},{"p":"F","k":"f","x":-42.6,"y":1.5},{"p":"F","k":"f","x":-41.6,"y":0.9},{"p":"F","k":"o","x":-27.8,"y":0.9},
{"p":"F","k":"o","x":0.9,"y":5.7},{"p":"F","k":"f","x":1.3,"y":2.8},{"p":"F","k":"f","x":0.8,"y":1.9},{"p":"F","k":"f","x":38.2,"y":2.3},
{"p":"F","k":"o","x":43.0,"y":4.2},{"p":"F","k":"o","x":42.0,"y":0.9},{"p":"F","k":"o","x":41.6,"y":-0.9},{"p":"F","k":"o","x":-45.4,"y":-3.4},
{"p":"F","k":"f","x":-37.5,"y":-1.9},{"p":"F","k":"o","x":-32.2,"y":-1.9},{"p":"F","k":"f","x":-32.2,"y":-3.4},{"p":"F","k":"o","x":-27.1,"y":-4.7},
{"p":"F","k":"o","x":-23.3,"y":-4.2},{"p":"F","k":"o","x":-29.6,"y":-6.6},{"p":"F","k":"o","x":-16.3,"y":-2.8},{"p":"F","k":"o","x":-15.1,"y":-6.6},
{"p":"F","k":"o","x":-19.5,"y":-8.0},{"p":"F","k":"f","x":-20.4,"y":-9.5},{"p":"F","k":"f","x":-21.4,"y":-10.4},{"p":"F","k":"f","x":-7.2,"y":-10.4},
{"p":"F","k":"f","x":-4.9,"y":-9.5},{"p":"F","k":"o","x":-2.1,"y":-3.4},{"p":"F","k":"o","x":5.1,"y":-10.8},{"p":"F","k":"f","x":9.5,"y":-7.6},
{"p":"F","k":"f","x":10.8,"y":-8.9},{"p":"F","k":"o","x":16.1,"y":-6.1},{"p":"F","k":"o","x":21.8,"y":-5.7},{"p":"F","k":"o","x":28.2,"y":-2.8},
{"p":"F","k":"o","x":28.2,"y":-4.2},{"p":"F","k":"o","x":27.3,"y":-7.0}
]},
"transform":[
 {"calculate":"floor(indexof('ABCDEF', datum.p) / 3)","as":"row"},
 {"calculate":"indexof('ABCDEF', datum.p) % 3","as":"col"}
],
"facet":{
 "row":{"field":"row","type":"ordinal","header":null},
 "column":{"field":"col","type":"ordinal","header":null}
},
"spacing":{"column":22,"row":25},
"spec":{
 "width":176,"height":176,
 "encoding":{
  "x":{"field":"x","type":"quantitative","scale":{"domain":[-50,50]},"axis":null},
  "y":{"field":"y","type":"quantitative","scale":{"domain":[-50,50]},"axis":null}
 },
 "layer":[
  {"transform":[{"filter":"datum.k=='ln'"}],"mark":{"type":"rule","color":"black","strokeWidth":1.5},"encoding":{"x2":{"field":"x2"},"y2":{"field":"y2"}}},
  {"transform":[{"filter":"datum.k=='arrow'"}],"mark":{"type":"rule","color":"black","strokeWidth":1.2},"encoding":{"x2":{"field":"x2"},"y2":{"field":"y2"}}},
  {"transform":[{"filter":"datum.k=='head'"}],"mark":{"type":"point","shape":"triangle-up","filled":true,"color":"black","opacity":1,"size":30,"angle":306},"encoding":{}},
  {"transform":[{"filter":"datum.k=='o'"}],"mark":{"type":"point","shape":"square","filled":true,"fill":"white","stroke":"black","strokeWidth":1,"size":12,"opacity":1},"encoding":{}},
  {"transform":[{"filter":"datum.k=='f'"}],"mark":{"type":"point","shape":"square","filled":true,"color":"black","size":16,"opacity":1},"encoding":{}},
  {"transform":[{"filter":"datum.k=='r'"}],"mark":{"type":"text","align":"right","baseline":"middle","fontSize":14,"color":"black"},"encoding":{"text":{"field":"t"}}},
  {"transform":[{"filter":"datum.k=='l'"}],"mark":{"type":"text","align":"left","baseline":"middle","fontSize":15,"color":"black"},"encoding":{"text":{"field":"t"}}},
  {"transform":[{"filter":"datum.k=='c'"}],"mark":{"type":"text","align":"center","baseline":"middle","fontSize":15,"color":"black"},"encoding":{"text":{"field":"t"}}},
  {"transform":[{"filter":"datum.k=='L'"}],"mark":{"type":"text","align":"center","baseline":"middle","fontSize":24,"color":"black"},"encoding":{"text":{"field":"t"}}},
  {"transform":[{"filter":"datum.k=='T'"}],"mark":{"type":"text","align":"center","baseline":"middle","fontSize":18,"color":"black"},"encoding":{"text":{"field":"t"}}}
 ]
}
}
